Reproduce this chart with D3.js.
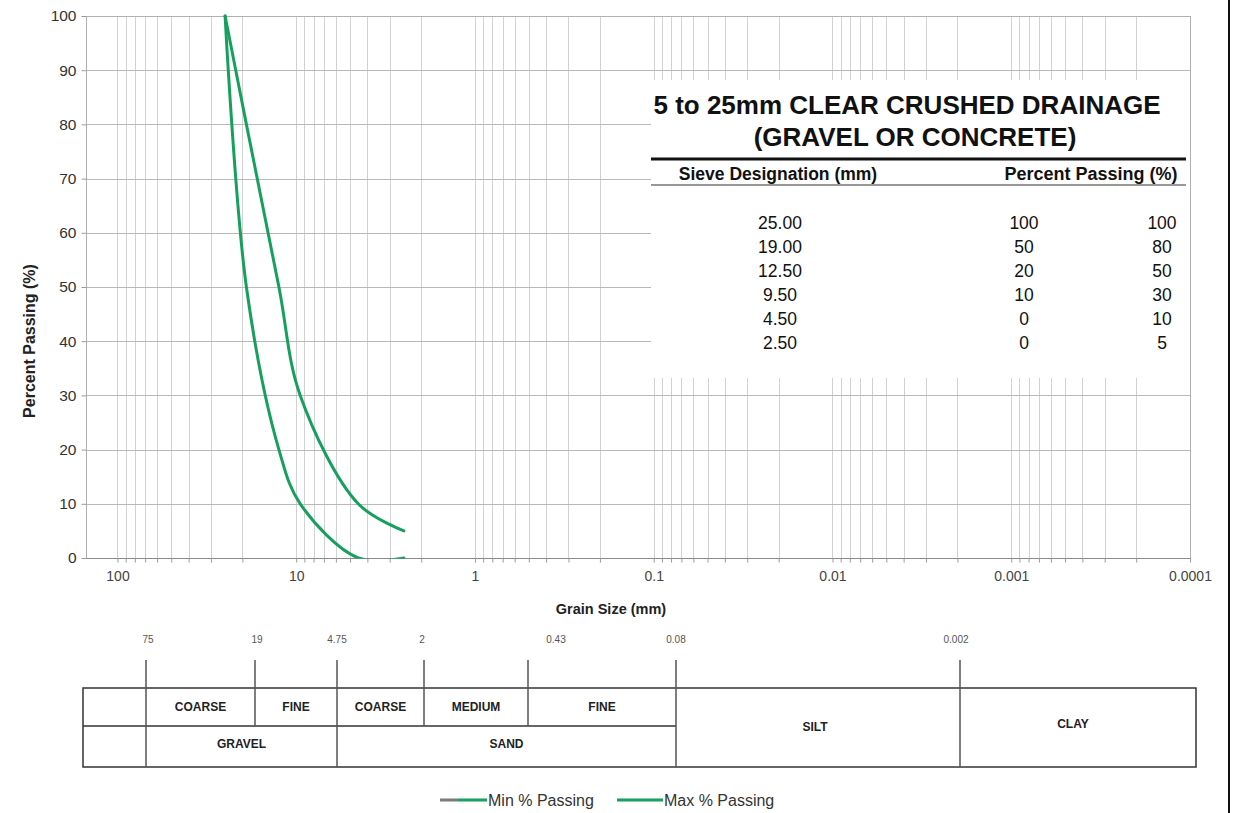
<!DOCTYPE html>
<html lang="en">
<head>
    <meta charset="UTF-8">
    <title>Grain size distribution - 5 to 25mm clear crushed drainage</title>
    <style>
    body { margin: 0; background: #fff; }
    svg { font-family: "Liberation Sans", Arial, sans-serif; }
    .grid line { stroke: #d2d2d2; shape-rendering: crispEdges; }
    .hgrid line { stroke: #b9b9b9; shape-rendering: crispEdges; }
    .axis path { display: none; }
    .axis line { stroke: #999; }
    .axis text { fill: #444; font-size: 14px; }
    .curve { fill: none; stroke-width: 3px; stroke-linecap: round; }
    .zone text { font-size: 12px; font-weight: bold; fill: #222; }
    </style>
</head>
<body>
    <svg width="1249" height="813"></svg>
    <script src="https://cdn.jsdelivr.net/npm/d3@7"></script>
    <script type="text/javascript">
        // grading envelope (sieve mm -> % passing)
        var sieveSizes = [25, 19, 12.5, 9.5, 4.5, 2.5];
        var minPassing = [100, 50, 20, 10, 0, 0];
        var maxPassing = [100, 80, 50, 30, 10, 5];

        var yTicks = [0, 10, 20, 30, 40, 50, 60, 70, 80, 90, 100];
        var xTickLabels = ["100", "10", "1", "0.1", "0.01", "0.001", "0.0001"];

        // soil classification chart under the graph
        var zoneBounds = [75, 19, 4.75, 2, 0.43, 0.08, 0.002];
        var zoneBoundLabels = ["75", "19", "4.75", "2", "0.43", "0.08", "0.002"];
        var subZones = ["COARSE", "FINE", "COARSE", "MEDIUM", "FINE"];
        var mainZones = ["GRAVEL", "SAND"];
        var fullZones = ["SILT", "CLAY"];

        var green = "#17a05d";

        var svg = d3.select("svg");
        svg.append("rect").attr("width", 1249).attr("height", 813).attr("fill", "#fff");

        var pL = 86, pR = 1190, pT = 16, pB = 558;
        var x = d3.scaleLog().domain([150, 0.0001]).range([pL, pR]),
            y = d3.scaleLinear().domain([0, 100]).range([pB, pT]);

        svg.append("defs").append("clipPath").attr("id", "plot-clip")
          .append("rect").attr("x", pL).attr("y", 0).attr("width", pR - pL).attr("height", pB + 0.5);

        // minor log values for the vertical grid
        var minor = [];
        for (var e = -4; e <= 2; e++) {
          for (var m = 1; m <= 9; m++) {
            var v = m * Math.pow(10, e);
            if (v <= 150) minor.push(v);
          }
        }

        svg.append("g").attr("class", "grid")
          .selectAll("line").data(minor).enter().append("line")
            .attr("x1", function(d) { return Math.round(x(d)) + 0.5; })
            .attr("x2", function(d) { return Math.round(x(d)) + 0.5; })
            .attr("y1", pT).attr("y2", pB);

        svg.append("g").attr("class", "hgrid")
          .selectAll("line").data(yTicks).enter().append("line")
            .attr("x1", pL).attr("x2", pR)
            .attr("y1", function(d) { return Math.round(y(d)) + 0.5; })
            .attr("y2", function(d) { return Math.round(y(d)) + 0.5; });

        svg.append("rect")
          .attr("x", pL + 0.5).attr("y", pT + 0.5)
          .attr("width", pR - pL).attr("height", pB - pT)
          .attr("fill", "none").attr("stroke", "#b0b0b0");

        svg.append("line")
          .attr("x1", pL).attr("x2", pR)
          .attr("y1", pB + 0.5).attr("y2", pB + 0.5)
          .attr("stroke", "#8c8c8c");

        // axes
        var decades = xTickLabels.map(Number);
        svg.append("g").attr("class", "axis")
          .attr("transform", "translate(0," + (pB + 0.5) + ")")
          .call(d3.axisBottom(x).tickValues(minor).tickSize(4).tickPadding(9)
            .tickFormat(function(d) {
              var i = decades.indexOf(+d.toPrecision(6));
              return i >= 0 ? xTickLabels[i] : "";
            }));

        svg.append("g").attr("class", "axis")
          .attr("transform", "translate(" + (pL + 0.5) + ",0)")
          .call(d3.axisLeft(y).tickValues(yTicks).tickSize(5).tickPadding(5))
          .selectAll("text").style("font-size", "15.5px").style("fill", "#333");

        svg.append("text")
          .attr("transform", "translate(35,341) rotate(-90)")
          .attr("text-anchor", "middle")
          .attr("font-size", "16px").attr("font-weight", "bold")
          .attr("fill", "#222")
          .text("Percent  Passing (%)");

        svg.append("text")
          .attr("x", 611).attr("y", 614)
          .attr("text-anchor", "middle")
          .attr("font-size", "14.5px").attr("font-weight", "bold")
          .attr("fill", "#222")
          .text("Grain Size (mm)");

        // curves (smoothed, clipped at the plot area like the original)
        var line = d3.line()
          .curve(d3.curveCatmullRom)
          .x(function(d) { return x(d.size); })
          .y(function(d) { return y(d.pct); });

        var series = [
          { name: "Min % Passing", values: minPassing },
          { name: "Max % Passing", values: maxPassing }
        ];
        series.forEach(function(s) {
          s.data = sieveSizes.map(function(size, i) { return { size: size, pct: s.values[i] }; });
        });

        svg.append("g").attr("clip-path", "url(#plot-clip)")
          .selectAll("path").data(series).enter().append("path")
          .attr("class", "curve")
          .attr("stroke", green)
          .attr("d", function(d) { return line(d.data); });

        // specification table
        var tx = 651, tw = 539;
        var tbl = svg.append("g");
        tbl.append("rect").attr("x", tx).attr("y", 80).attr("width", tw).attr("height", 298).attr("fill", "#fff");

        tbl.selectAll(".ttl").data(["5 to 25mm CLEAR CRUSHED DRAINAGE", "(GRAVEL OR CONCRETE)"])
          .enter().append("text")
            .attr("x", function(d, i) { return i === 0 ? 907 : 915; })
            .attr("y", function(d, i) { return 114 + i * 32; })
            .attr("text-anchor", "middle")
            .attr("font-size", "26px").attr("font-weight", "bold").attr("fill", "#111")
            .text(function(d) { return d; });

        tbl.append("line").attr("x1", tx).attr("x2", 1186).attr("y1", 159).attr("y2", 159)
          .attr("stroke", "#111").attr("stroke-width", 3);
        tbl.append("line").attr("x1", tx).attr("x2", 1186).attr("y1", 185).attr("y2", 185)
          .attr("stroke", "#333").attr("stroke-width", 1.2);

        tbl.append("text").attr("x", 778).attr("y", 180).attr("text-anchor", "middle")
          .attr("font-size", "17.5px").attr("font-weight", "bold").attr("fill", "#111")
          .text("Sieve Designation (mm)");
        tbl.append("text").attr("x", 1091).attr("y", 180).attr("text-anchor", "middle")
          .attr("font-size", "18px").attr("font-weight", "bold").attr("fill", "#111")
          .text("Percent Passing (%)");

        var rows = tbl.selectAll(".row").data(sieveSizes).enter().append("g")
          .attr("transform", function(d, i) { return "translate(0," + (229 + i * 24) + ")"; })
          .attr("font-size", "17.5px").attr("fill", "#111").attr("text-anchor", "middle");
        rows.append("text").attr("x", 780).text(function(d) { return d3.format(".2f")(d); });
        rows.append("text").attr("x", 1024).text(function(d, i) { return minPassing[i]; });
        rows.append("text").attr("x", 1162).text(function(d, i) { return maxPassing[i]; });

        // classification chart
        var zx = d3.scaleLog().domain(zoneBounds).range([146, 255, 337, 424, 528, 676, 960]);
        var boxL = 83, boxR = 1196, boxT = 688, boxM = 726, boxB = 767;
        var zone = svg.append("g").attr("class", "zone");

        zone.append("rect").attr("x", boxL).attr("y", boxT)
          .attr("width", boxR - boxL).attr("height", boxB - boxT)
          .attr("fill", "none").attr("stroke", "#333").attr("stroke-width", 1.5);
        zone.append("line").attr("x1", boxL).attr("x2", zx(0.08)).attr("y1", boxM).attr("y2", boxM)
          .attr("stroke", "#333").attr("stroke-width", 1.5);

        var fullHeight = [75, 4.75, 0.08, 0.002];
        zone.selectAll(".bound").data(zoneBounds).enter().append("line")
          .attr("x1", function(d) { return zx(d); })
          .attr("x2", function(d) { return zx(d); })
          .attr("y1", 660)
          .attr("y2", function(d) { return fullHeight.indexOf(d) >= 0 ? boxB : boxM; })
          .attr("stroke", "#555").attr("stroke-width", 1.5);

        var labelShift = [2, 2, 0, -2, 28, 0, -4];
        zone.selectAll(".blabel").data(zoneBounds).enter().append("text")
          .attr("x", function(d, i) { return zx(d) + labelShift[i]; })
          .attr("y", 643)
          .attr("text-anchor", "middle")
          .style("font-size", "10px").style("font-weight", "normal").style("fill", "#555")
          .text(function(d, i) { return zoneBoundLabels[i]; });

        zone.selectAll(".sub").data(subZones).enter().append("text")
          .attr("x", function(d, i) { return (zx(zoneBounds[i]) + zx(zoneBounds[i + 1])) / 2; })
          .attr("y", 711).attr("text-anchor", "middle")
          .text(function(d) { return d; });

        var mainEdges = [75, 4.75, 0.08];
        zone.selectAll(".main").data(mainZones).enter().append("text")
          .attr("x", function(d, i) { return (zx(mainEdges[i]) + zx(mainEdges[i + 1])) / 2; })
          .attr("y", 748).attr("text-anchor", "middle")
          .text(function(d) { return d; });

        var fullEdges = [zx(0.08), zx(0.002), boxR - 4];
        zone.selectAll(".full").data(fullZones).enter().append("text")
          .attr("x", function(d, i) { return (fullEdges[i] + fullEdges[i + 1]) / 2 - 3; })
          .attr("y", function(d, i) { return i === 0 ? 731 : 728; })
          .attr("text-anchor", "middle")
          .text(function(d) { return d; });

        // legend
        var legend = svg.append("g").attr("font-size", "16px").attr("fill", "#333");
        legend.append("line").attr("x1", 440).attr("x2", 458).attr("y1", 800).attr("y2", 800)
          .attr("stroke", "#7a7a7a").attr("stroke-width", 3);
        legend.append("line").attr("x1", 458).attr("x2", 487).attr("y1", 800).attr("y2", 800)
          .attr("stroke", green).attr("stroke-width", 3);
        legend.append("text").attr("x", 488).attr("y", 806).text(series[0].name);
        legend.append("line").attr("x1", 617).attr("x2", 663).attr("y1", 800).attr("y2", 800)
          .attr("stroke", green).attr("stroke-width", 3);
        legend.append("text").attr("x", 664).attr("y", 806).text(series[1].name);

        // page edge
        svg.append("line").attr("x1", 1229).attr("x2", 1229).attr("y1", 0).attr("y2", 813)
          .attr("stroke", "#111").attr("stroke-width", 2);
    </script>
</body>
</html>
